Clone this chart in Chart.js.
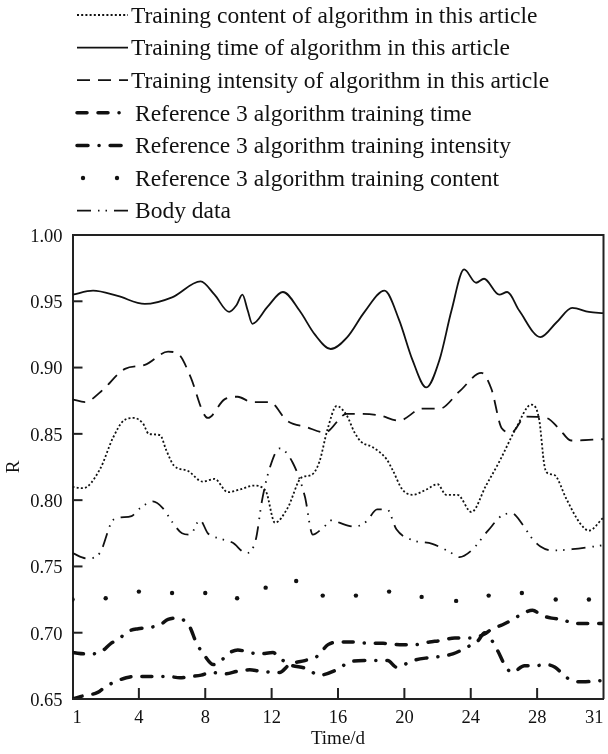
<!DOCTYPE html>
<html>
<head>
<meta charset="utf-8">
<title>Training R over time</title>
<script src="https://cdn.jsdelivr.net/npm/chart.js@4.4.1/dist/chart.umd.min.js"></script>
<style>
  html, body { margin: 0; padding: 0; background: #fff; }
</style>
</head>
<body>
<canvas id="chart" width="608" height="754"></canvas>
<script>
// x is measured in tick steps: 0 = day 1 ... 8 = day 31 (ticks are evenly spaced)
const xTicks = ['1', '4', '8', '12', '16', '20', '24', '28', '31'];
const yTicks = [0.65, 0.70, 0.75, 0.80, 0.85, 0.90, 0.95, 1.00];

// Training content of algorithm in this article (dotted)
const contentX = [0,0.16,0.41,0.61,0.77,0.92,1.06,1.15,1.32,1.41,1.53,1.74,1.96,2.14,2.34,2.52,2.73,2.91,3.05,3.24,3.45,3.60,3.72,3.84,3.98,4.13,4.25,4.35,4.52,4.73,4.82,4.97,5.12,5.33,5.50,5.63,5.80,6.01,6.23,6.43,6.68,6.91,7.03,7.11,7.17,7.26,7.44,7.64,7.78,8];
const contentY = [0.810,0.809,0.823,0.847,0.860,0.862,0.858,0.850,0.849,0.838,0.826,0.822,0.814,0.816,0.806,0.808,0.811,0.807,0.783,0.794,0.817,0.819,0.829,0.853,0.871,0.864,0.851,0.844,0.840,0.831,0.823,0.808,0.804,0.808,0.812,0.804,0.804,0.791,0.811,0.829,0.854,0.872,0.861,0.826,0.820,0.819,0.801,0.783,0.777,0.787];

// Training time of algorithm in this article (solid)
const timeX = [0,0.31,0.68,1.09,1.50,1.93,2.14,2.36,2.47,2.56,2.64,2.71,2.94,3.17,3.42,3.65,3.89,4.14,4.40,4.70,4.92,5.12,5.33,5.53,5.71,5.90,6.08,6.20,6.43,6.55,6.73,7.05,7.29,7.53,7.78,8];
const timeY = [0.955,0.958,0.954,0.948,0.953,0.965,0.955,0.942,0.947,0.955,0.943,0.933,0.946,0.957,0.943,0.925,0.914,0.923,0.942,0.958,0.936,0.906,0.885,0.906,0.943,0.974,0.964,0.967,0.955,0.957,0.943,0.923,0.934,0.945,0.942,0.941];

// Training intensity of algorithm in this article (dashed)
const intensityX = [0,0.19,0.43,0.79,1.09,1.44,1.62,1.77,2.04,2.29,2.49,2.70,2.97,3.23,3.53,3.80,4.13,4.37,4.62,4.92,5.27,5.53,5.83,6.16,6.31,6.47,6.61,6.83,7.14,7.33,7.51,8];
const intensityY = [0.876,0.874,0.882,0.899,0.902,0.912,0.909,0.894,0.862,0.876,0.878,0.874,0.874,0.860,0.855,0.851,0.865,0.865,0.864,0.860,0.869,0.869,0.882,0.896,0.884,0.854,0.851,0.863,0.862,0.854,0.845,0.846];

// Reference 3 algorithm training time
const refTimeX = [0,0.13,0.38,0.49,0.64,0.81,0.94,1.11,1.26,1.44,1.62,1.78,1.94,2.09,2.30,2.49,2.67,2.82,3.12,3.27,3.50,3.68,3.85,4.03,4.22,4.49,4.68,4.93,5.16,5.38,5.53,5.76,5.99,6.21,6.32,6.48,6.63,6.77,6.93,7.07,7.22,7.39,7.54,7.72,8];
const refTimeY = [0.650,0.652,0.655,0.659,0.663,0.666,0.667,0.667,0.667,0.667,0.666,0.667,0.668,0.670,0.669,0.671,0.672,0.671,0.670,0.676,0.679,0.682,0.691,0.693,0.693,0.692,0.692,0.691,0.691,0.693,0.694,0.696,0.696,0.699,0.703,0.706,0.710,0.714,0.717,0.713,0.711,0.710,0.707,0.707,0.707];

// Reference 3 algorithm training intensity
const refIntensityX = [0,0.23,0.41,0.58,0.69,0.84,0.99,1.17,1.32,1.44,1.59,1.77,1.86,2.00,2.12,2.22,2.34,2.49,2.67,2.82,3.02,3.12,3.27,3.52,3.72,3.98,4.18,4.40,4.60,4.75,4.88,5.13,5.34,5.53,5.73,5.94,6.11,6.21,6.32,6.41,6.51,6.62,6.81,6.97,7.12,7.27,7.40,7.52,7.69,8];
const refIntensityY = [0.685,0.684,0.685,0.692,0.695,0.701,0.703,0.704,0.706,0.710,0.711,0.704,0.693,0.682,0.676,0.678,0.684,0.687,0.685,0.684,0.685,0.681,0.676,0.673,0.668,0.672,0.678,0.679,0.679,0.679,0.674,0.679,0.681,0.682,0.684,0.689,0.694,0.700,0.694,0.686,0.676,0.670,0.675,0.675,0.676,0.674,0.668,0.664,0.663,0.664];

// Reference 3 algorithm training content (dots only)
const refContentX = [0,0.50,1.00,1.50,2.00,2.48,2.91,3.37,3.77,4.27,4.77,5.26,5.78,6.27,6.77,7.28,7.78];
const refContentY = [0.725,0.726,0.731,0.730,0.730,0.726,0.734,0.739,0.728,0.728,0.731,0.727,0.724,0.728,0.730,0.725,0.725];

// Body data
const bodyX = [0,0.22,0.41,0.61,0.73,0.89,1.02,1.21,1.36,1.51,1.65,1.77,1.92,2.04,2.22,2.41,2.62,2.76,2.86,2.97,3.12,3.32,3.50,3.62,3.77,3.92,4.02,4.25,4.43,4.59,4.74,4.88,5.11,5.42,5.68,5.83,6.01,6.26,6.49,6.62,6.79,6.91,7.05,7.23,7.53,8];
const bodyY = [0.760,0.756,0.760,0.785,0.787,0.788,0.794,0.799,0.794,0.783,0.775,0.774,0.785,0.775,0.771,0.768,0.760,0.770,0.801,0.824,0.839,0.828,0.803,0.774,0.779,0.785,0.783,0.780,0.784,0.793,0.793,0.778,0.770,0.767,0.761,0.757,0.762,0.777,0.789,0.790,0.781,0.772,0.765,0.762,0.763,0.766];

const INK = '#111';
const SERIF = '"Liberation Serif", "Times New Roman", serif';

function pts(xs, ys) {
  return xs.map((x, i) => ({ x: x, y: ys[i] }));
}

function line(label, xs, ys, width, dash, cap) {
  return {
    label: label,
    data: pts(xs, ys),
    borderColor: INK,
    borderWidth: width,
    borderDash: dash,
    borderCapStyle: cap || 'butt',
    borderJoinStyle: 'round',
    cubicInterpolationMode: 'monotone',
    pointRadius: 0,
    fill: false
  };
}

// legend drawn at the top, one row per dataset
const topLegend = {
  id: 'topLegend',
  afterDraw(chart) {
    const ctx = chart.ctx;
    ctx.save();
    ctx.font = '23.5px ' + SERIF;
    ctx.fillStyle = INK;
    ctx.strokeStyle = INK;
    ctx.textBaseline = 'alphabetic';
    chart.data.datasets.forEach((ds, i) => {
      const y = 15 + i * 32.6;
      if (ds.showLine === false) {
        [83, 117].forEach(x => {
          ctx.beginPath();
          ctx.arc(x, y, 2.2, 0, Math.PI * 2);
          ctx.fill();
        });
      } else {
        ctx.lineWidth = ds.borderWidth;
        ctx.lineCap = ds.borderCapStyle;
        ctx.setLineDash(ds.borderDash || []);
        ctx.beginPath();
        ctx.moveTo(77, y);
        ctx.lineTo(128, y);
        ctx.stroke();
        ctx.setLineDash([]);
      }
      ctx.fillText(ds.label, i < 3 ? 131 : 135, y + 7.7);
    });
    ctx.restore();
  }
};

// top/right edges of the plot box and the inward tick marks
const frame = {
  id: 'frame',
  afterDraw(chart) {
    const { ctx, chartArea: a } = chart;
    const sx = chart.scales.x, sy = chart.scales.y;
    ctx.save();
    ctx.setLineDash([]);
    ctx.strokeStyle = '#222';
    ctx.lineWidth = 2;
    ctx.beginPath();
    ctx.moveTo(a.left, a.top);
    ctx.lineTo(a.right, a.top);
    ctx.lineTo(a.right, a.bottom);
    ctx.stroke();
    for (let i = 1; i < xTicks.length - 1; i++) {
      const px = sx.getPixelForValue(i);
      ctx.beginPath();
      ctx.moveTo(px, a.bottom);
      ctx.lineTo(px, a.bottom - 11);
      ctx.stroke();
    }
    yTicks.forEach(v => {
      const py = sy.getPixelForValue(v);
      ctx.beginPath();
      ctx.moveTo(a.left, py);
      ctx.lineTo(a.left + 10, py);
      ctx.stroke();
    });
    ctx.restore();
  }
};

Chart.defaults.font.family = SERIF;
Chart.defaults.color = INK;

new Chart(document.getElementById('chart'), {
  type: 'line',
  data: {
    datasets: [
      line('Training content of algorithm in this article', contentX, contentY, 1.8, [2, 2.2]),
      line('Training time of algorithm in this article', timeX, timeY, 1.8, []),
      line('Training intensity of algorithm in this article', intensityX, intensityY, 1.8, [13, 8]),
      line('Reference 3 algorithm training time', refTimeX, refTimeY, 3.5, [10, 11, 10, 11, 0.1, 11], 'round'),
      line('Reference 3 algorithm training intensity', refIntensityX, refIntensityY, 3.5, [11, 11, 0.1, 11], 'round'),
      {
        label: 'Reference 3 algorithm training content',
        data: pts(refContentX, refContentY),
        showLine: false,
        pointRadius: 2.2,
        pointBackgroundColor: INK,
        pointBorderWidth: 0
      },
      line('Body data', bodyX, bodyY, 1.8, [14, 7, 1.5, 6, 1.5, 7])
    ]
  },
  options: {
    responsive: false,
    animation: false,
    layout: { padding: { top: 235, right: 4.5, left: 0, bottom: 0 } },
    plugins: {
      legend: { display: false },
      tooltip: { enabled: false }
    },
    scales: {
      x: {
        type: 'linear',
        min: 0,
        max: 8,
        border: { display: true, color: '#222', width: 2 },
        grid: { drawOnChartArea: false, drawTicks: false },
        afterBuildTicks: s => { s.ticks = xTicks.map((_, i) => ({ value: i })); },
        ticks: {
          padding: 8,
          align: 'inner',
          maxRotation: 0,
          font: { size: 18.5 },
          callback: v => xTicks[v]
        },
        title: { display: true, text: 'Time/d', font: { size: 19 }, padding: { top: 0, bottom: 4 } },
        afterFit: s => { s.height = 55; s.paddingLeft = 0; s.paddingRight = 0; }
      },
      y: {
        min: 0.65,
        max: 1.0,
        border: { display: true, color: '#222', width: 2 },
        grid: { drawOnChartArea: false, drawTicks: false },
        afterBuildTicks: s => { s.ticks = yTicks.map(v => ({ value: v })); },
        ticks: {
          padding: 10,
          labelOffset: 2,
          font: { size: 18.5 },
          callback: v => v.toFixed(2)
        },
        title: { display: true, text: 'R', font: { size: 19 }, padding: { top: 3, bottom: 0 } },
        afterFit: s => { s.width = 72.5; }
      }
    }
  },
  plugins: [topLegend, frame]
});
</script>
</body>
</html>
